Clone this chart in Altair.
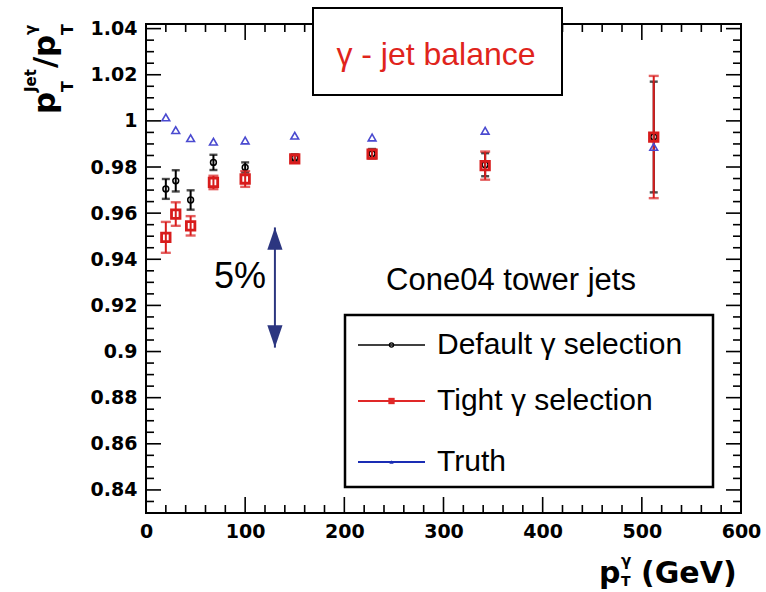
import altair as alt
import pandas as pd
import numpy as np

# ---- data ----
pt = [20, 30, 45, 68, 100, 150, 228, 342, 512]
default_y = [0.9705, 0.974, 0.9657, 0.982, 0.9798, 0.984, 0.9858, 0.981, 0.993]
default_err = [0.0043, 0.0046, 0.0042, 0.0033, 0.0022, 0.0015, 0.002, 0.005, 0.024]
tight_y = [0.9495, 0.9596, 0.9545, 0.9733, 0.9748, 0.9835, 0.9856, 0.9806, 0.993]
tight_err = [0.0067, 0.0051, 0.0042, 0.0029, 0.0034, 0.0015, 0.0018, 0.0061, 0.0265]
truth_y = [1.0015, 0.996, 0.9925, 0.991, 0.9915, 0.9936, 0.9928, 0.9957, 0.9887]

x_ticks = [0, 100, 200, 300, 400, 500, 600]
y_ticks = [0.84, 0.86, 0.88, 0.90, 0.92, 0.94, 0.96, 0.98, 1.00, 1.02, 1.04]
legend_labels = ["Default \u03b3 selection", "Tight \u03b3 selection", "Truth"]
arrow_x = [130]
arrow_lo = [0.9017]
arrow_hi = [0.9538]

W, H = 595, 489
PADL, PADT = 146, 24

xs = alt.Scale(domain=[0, 600], nice=False, zero=False)
ys = alt.Scale(domain=[0.83, 1.042], nice=False, zero=False)
x_axis = alt.Axis(values=x_ticks, ticks=False, domain=False, grid=False,
                  labelFont="DejaVu Sans", labelFontWeight="bold", labelFontSize=19,
                  labelColor="black", labelPadding=9, title="", labelOverlap=False,
                  labelFlush=False)
y_axis = alt.Axis(values=y_ticks, ticks=False, domain=False, grid=False, format=".2~f",
                  labelFont="DejaVu Sans", labelFontWeight="bold", labelFontSize=19,
                  labelColor="black", labelPadding=9, title="", labelOverlap=False,
                  labelFlush=False)


def X(f):
    return alt.X(f, type="quantitative", scale=xs, axis=x_axis)


def Y(f):
    return alt.Y(f, type="quantitative", scale=ys, axis=y_axis)


one = pd.DataFrame({"a": [0]})
layers = []

# frame
layers.append(alt.Chart(one).mark_rect(fillOpacity=0, stroke="black", strokeWidth=2).encode(
    x=alt.value(0), x2=alt.value(W), y=alt.value(0), y2=alt.value(H)))

# inside ticks
ymaj = pd.DataFrame({"v": y_ticks})
ymin = pd.DataFrame({"v": [round(v, 3) for v in np.arange(0.835, 1.041, 0.005)
                           if round(v, 3) not in [round(t, 3) for t in y_ticks]]})
xmaj = pd.DataFrame({"v": x_ticks})
xmin = pd.DataFrame({"v": [v for v in range(20, 600, 20) if v % 100 != 0]})
for df, L in [(ymaj, 15), (ymin, 8)]:
    layers.append(alt.Chart(df).mark_rule(color="black", strokeWidth=1.6).encode(
        y=Y("v"), x=alt.value(0), x2=alt.value(L)))
    layers.append(alt.Chart(df).mark_rule(color="black", strokeWidth=1.6).encode(
        y=Y("v"), x=alt.value(W - L), x2=alt.value(W)))
for df, L in [(xmaj, 16), (xmin, 8)]:
    layers.append(alt.Chart(df).mark_rule(color="black", strokeWidth=1.6).encode(
        x=X("v"), y=alt.value(H), y2=alt.value(H - L)))
    layers.append(alt.Chart(df).mark_rule(color="black", strokeWidth=1.6).encode(
        x=X("v"), y=alt.value(0), y2=alt.value(L)))


def series(yv, err, color, shape, size, sw, capw):
    df = pd.DataFrame({"pt": pt, "y": yv, "lo": [a - b for a, b in zip(yv, err)],
                       "hi": [a + b for a, b in zip(yv, err)]})
    caps = pd.concat([df[["pt"]].assign(c=df["lo"]), df[["pt"]].assign(c=df["hi"])])
    out = [
        alt.Chart(df).mark_rule(color=color, strokeWidth=2).encode(x=X("pt"), y=Y("lo"), y2="hi"),
        alt.Chart(caps).mark_tick(orient="horizontal", color=color, size=capw, thickness=2.4).encode(
            x=X("pt"), y=Y("c")),
        alt.Chart(df).mark_point(shape=shape, filled=False, color=color, size=size,
                                 strokeWidth=sw, opacity=1).encode(x=X("pt"), y=Y("y")),
    ]
    return out


layers += series(default_y, default_err, "black", "circle", 34, 1.5, 8)
layers += series(tight_y, tight_err, "#d81c1c", "square", 72, 2.8, 10)
tru = pd.DataFrame({"pt": pt, "y": truth_y})
layers.append(alt.Chart(tru).mark_point(shape="triangle-up", filled=False, color="#4a4ad0",
                                        size=60, strokeWidth=1.6, opacity=1).encode(
    x=X("pt"), y=Y("y")))

# 5% arrow
arr = pd.DataFrame({"x": arrow_x, "lo": arrow_lo, "hi": arrow_hi})
navy = "#2c3680"
layers.append(alt.Chart(arr).mark_rule(color=navy, strokeWidth=2).encode(
    x=X("x"), y=Y("lo"), y2="hi"))
layers.append(alt.Chart(arr).mark_point(shape="M0,0L-0.34,1L0.34,1Z", filled=True, color=navy,
                                        size=2000, opacity=1).encode(x=X("x"), y=Y("hi")))
layers.append(alt.Chart(arr).mark_point(shape="M0,0L-0.34,-1L0.34,-1Z", filled=True, color=navy,
                                        size=2000, opacity=1).encode(x=X("x"), y=Y("lo")))
layers.append(alt.Chart(one).mark_text(text="5%", font="Liberation Sans", fontSize=36,
                                       align="center", baseline="alphabetic", color="black").encode(
    x=alt.value(94), y=alt.value(264)))

# Cone04 text
layers.append(alt.Chart(one).mark_text(text="Cone04 tower jets", font="Liberation Sans", fontSize=31,
                                       align="center", baseline="alphabetic", color="black").encode(
    x=alt.value(365), y=alt.value(266)))

# title box
layers.append(alt.Chart(one).mark_rect(fill="white", stroke="black", strokeWidth=2).encode(
    x=alt.value(167), x2=alt.value(416), y=alt.value(-16), y2=alt.value(71)))
layers.append(alt.Chart(one).mark_text(text="\u03b3 - jet balance", font="Liberation Sans", fontSize=32,
                                       align="center", baseline="alphabetic", color="#e0241c").encode(
    x=alt.value(290), y=alt.value(41)))

# legend
layers.append(alt.Chart(one).mark_rect(fill="white", stroke="black", strokeWidth=2.5).encode(
    x=alt.value(199), x2=alt.value(567), y=alt.value(291), y2=alt.value(463)))
leg_y = [321, 377, 438]
leg_col = ["black", "#e02828", "#1a2db4"]
leg_w = [1.5, 2.2, 2.2]
leg_shape = ["circle", "square", "triangle-up"]
leg_size = [18, 40, 18]
leg_fill = [False, True, True]
for i in range(3):
    layers.append(alt.Chart(one).mark_rule(color=leg_col[i], strokeWidth=leg_w[i]).encode(
        x=alt.value(212), x2=alt.value(279), y=alt.value(leg_y[i])))
    layers.append(alt.Chart(one).mark_point(shape=leg_shape[i], filled=leg_fill[i], color=leg_col[i],
                                            size=leg_size[i], opacity=1, strokeWidth=1.2).encode(
        x=alt.value(245.5), y=alt.value(leg_y[i])))
    layers.append(alt.Chart(one).mark_text(text=legend_labels[i], font="Liberation Sans", fontSize=30,
                                           align="left", baseline="middle", color="black").encode(
        x=alt.value(291), y=alt.value(leg_y[i])))

# y-axis title pieces: p_T^Jet / p_T^gamma (rotated)
ytitle = [
    ("p", 31, -91, 90),
    ("T", 16, -73, 68),
    ("Jet", 15, -110, 68),
    ("/", 31, -91, 44),
    ("p", 31, -91, 33),
    ("T", 16, -73, 11),
    ("\u03b3", 15, -110, 11),
]
for t, s, xv, yv in ytitle:
    layers.append(alt.Chart(one).mark_text(text=t, font="DejaVu Sans", fontWeight="bold", fontSize=s,
                                           angle=270, align="left", baseline="alphabetic",
                                           color="black").encode(x=alt.value(xv), y=alt.value(yv)))

# x-axis title pieces: p_T^gamma (GeV)
xtitle = [
    ("p", 30, 453, 559),
    ("T", 14, 475, 562),
    ("\u03b3", 15, 475, 542),
    ("(GeV)", 30, 495, 559),
]
for t, s, xv, yv in xtitle:
    layers.append(alt.Chart(one).mark_text(text=t, font="DejaVu Sans", fontWeight="bold", fontSize=s,
                                           align="left", baseline="alphabetic",
                                           color="black").encode(x=alt.value(xv), y=alt.value(yv)))

chart = alt.layer(*layers).properties(
    width=W, height=H,
    autosize=alt.AutoSizeParams(type="none"),
    padding={"left": PADL, "top": PADT, "right": 766 - PADL - W, "bottom": 592 - PADT - H},
    background="white",
).configure_view(stroke="transparent")

chart.save("out.html", embed_options={"renderer": "svg", "actions": False})
